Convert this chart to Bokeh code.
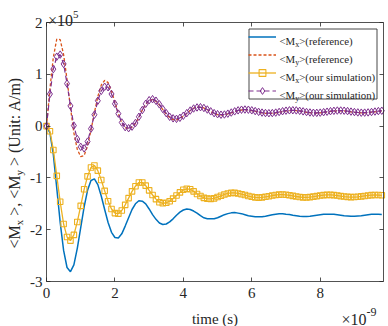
import numpy as np
from bokeh.plotting import figure
from bokeh.models import Range1d, FixedTicker, LinearAxis, Label, Legend, LegendItem
from bokeh.core.properties import value
from bokeh.embed import file_html
from bokeh.resources import INLINE

# ---------------- data (time in ns, magnetisation in 1e5 A/m) ----------------
t_ns = np.round(np.arange(99) * 0.1, 1)

mx_ref = [0.0, -0.13, -0.55, -1.20, -1.86, -2.40, -2.73, -2.81, -2.68, -2.36,
          -1.96, -1.56, -1.24, -1.05, -1.02, -1.13, -1.35, -1.61, -1.86, -2.05,
          -2.15, -2.16, -2.08, -1.93, -1.77, -1.61, -1.50, -1.44, -1.45, -1.50,
          -1.60, -1.71, -1.80, -1.87, -1.90, -1.89, -1.85, -1.79, -1.72, -1.66,
          -1.62, -1.60, -1.61, -1.64, -1.68, -1.73, -1.77, -1.79, -1.79, -1.79,
          -1.77, -1.74, -1.71, -1.69, -1.675, -1.67, -1.68, -1.69, -1.71, -1.73,
          -1.74, -1.75, -1.75, -1.75, -1.74, -1.725, -1.71, -1.70, -1.69, -1.69,
          -1.70, -1.705, -1.72, -1.73, -1.74, -1.745, -1.745, -1.74, -1.73, -1.72,
          -1.71, -1.70, -1.70, -1.70, -1.70, -1.71, -1.72, -1.73, -1.735, -1.74,
          -1.74, -1.735, -1.73, -1.72, -1.71, -1.70, -1.70, -1.70, -1.705]

my_ref = [0.0, 0.72, 1.33, 1.68, 1.67, 1.38, 0.90, 0.36, -0.13, -0.45,
          -0.59, -0.57, -0.38, -0.08, 0.26, 0.57, 0.79, 0.885, 0.84, 0.675,
          0.46, 0.24, 0.06, -0.03, -0.05, -0.02, 0.05, 0.17, 0.31, 0.42,
          0.49, 0.51, 0.48, 0.41, 0.32, 0.23, 0.165, 0.125, 0.12, 0.145,
          0.19, 0.245, 0.30, 0.345, 0.365, 0.365, 0.35, 0.315, 0.28, 0.245,
          0.22, 0.214, 0.219, 0.235, 0.257, 0.28, 0.299, 0.311, 0.315, 0.311,
          0.30, 0.285, 0.27, 0.256, 0.247, 0.244, 0.247, 0.256, 0.268, 0.282,
          0.293, 0.30, 0.301, 0.298, 0.29, 0.279, 0.267, 0.258, 0.252, 0.251,
          0.255, 0.264, 0.273, 0.283, 0.29, 0.295, 0.296, 0.292, 0.285, 0.275,
          0.266, 0.259, 0.254, 0.255, 0.259, 0.267, 0.276, 0.285, 0.292]

mx_sim = [0.0, -0.10, -0.46, -0.96, -1.46, -1.89, -2.14, -2.21, -2.10, -1.85,
          -1.54, -1.22, -0.97, -0.80, -0.76, -0.86, -1.04, -1.25, -1.45, -1.60,
          -1.68, -1.69, -1.63, -1.52, -1.39, -1.26, -1.16, -1.09, -1.09, -1.15,
          -1.24, -1.33, -1.41, -1.47, -1.49, -1.48, -1.45, -1.40, -1.34, -1.28,
          -1.23, -1.21, -1.22, -1.26, -1.31, -1.35, -1.385, -1.40, -1.405, -1.395,
          -1.37, -1.345, -1.32, -1.30, -1.29, -1.29, -1.30, -1.315, -1.33, -1.35,
          -1.365, -1.375, -1.38, -1.375, -1.365, -1.355, -1.34, -1.33, -1.322, -1.321,
          -1.326, -1.336, -1.347, -1.359, -1.369, -1.375, -1.375, -1.371, -1.362, -1.351,
          -1.34, -1.332, -1.328, -1.328, -1.333, -1.341, -1.351, -1.36, -1.367, -1.371,
          -1.37, -1.365, -1.357, -1.348, -1.339, -1.333, -1.33, -1.331, -1.336]

my_sim = [0.0, 0.62, 1.10, 1.34, 1.38, 1.20, 0.82, 0.39, 0.01, -0.25,
          -0.40, -0.43, -0.30, -0.05, 0.22, 0.49, 0.68, 0.76, 0.75, 0.62,
          0.43, 0.24, 0.07, -0.02, -0.04, -0.01, 0.06, 0.18, 0.31, 0.43,
          0.50, 0.52, 0.49, 0.42, 0.33, 0.25, 0.18, 0.15, 0.14, 0.16,
          0.20, 0.25, 0.30, 0.34, 0.36, 0.365, 0.35, 0.32, 0.285, 0.25,
          0.23, 0.22, 0.224, 0.24, 0.262, 0.285, 0.304, 0.316, 0.32, 0.316,
          0.305, 0.29, 0.275, 0.261, 0.252, 0.249, 0.252, 0.261, 0.273, 0.287,
          0.298, 0.305, 0.306, 0.303, 0.295, 0.284, 0.272, 0.263, 0.257, 0.256,
          0.26, 0.269, 0.278, 0.288, 0.295, 0.30, 0.301, 0.297, 0.29, 0.28,
          0.271, 0.264, 0.259, 0.26, 0.264, 0.272, 0.281, 0.29, 0.297]

x_ticks = [0, 2, 4, 6, 8]
y_ticks = [-3, -2, -1, 0, 1, 2]
y_tick_labels = {-3: "-3", -2: "-2", -1: "-1", 0: "0", 1: "1", 2: "2"}

# ---------------- layout (page pixels) ----------------
W_FIG, H_FIG = 388, 326
AXL, AXR, AXT, AXB = 46, 383, 22, 281          # axes box
X0, X1 = 0.0, 9.85
Y0, Y1 = -3.0, 2.0

BLUE, ORANGE, YELLOW, PURPLE, AX = "#0072BD", "#D95319", "#EDB120", "#7E2F8E", "#262626"
FONT = "Liberation Serif"


def dx(px):
    return X0 + (px - AXL) / (AXR - AXL) * (X1 - X0)


def dy(py):
    return Y1 - (py - AXT) / (AXB - AXT) * (Y1 - Y0)


CW = {'<': 564, 'M': 889, 'x': 500, 'y': 500, '>': 564, ',': 250, ' ': 250, '(': 333,
      ')': 333, 'U': 722, 'n': 500, 'i': 278, 't': 278, ':': 278, 'A': 722, '/': 278,
      'm': 778, 'r': 333, 'e': 444, 'f': 333, 'c': 444, 'o': 500, 'u': 500, 's': 389,
      'l': 278, 'a': 444, '\u00d7': 564, '1': 500, '0': 500, '5': 500, '9': 500, '-': 333}


def tw(s, size):
    return sum(CW.get(ch, 500) for ch in s) * size / 1000.0


p = figure(width=W_FIG, height=H_FIG,
           x_range=Range1d(dx(0), dx(W_FIG)), y_range=Range1d(dy(H_FIG), dy(0)),
           output_backend="svg", toolbar_location=None,
           min_border_left=0, min_border_right=0, min_border_top=0, min_border_bottom=0)
p.background_fill_color = "white"
p.border_fill_color = "white"
p.grid.visible = False
p.outline_line_color = None

xa = p.xaxis[0]
ya = p.yaxis[0]
for ax, ticks, loc, bnds in ((xa, x_ticks, Y0, (X0, X1)), (ya, y_ticks, X0, (Y0, Y1))):
    ax.ticker = FixedTicker(ticks=ticks)
    ax.fixed_location = loc
    ax.bounds = bnds
    ax.major_tick_in = 4
    ax.major_tick_out = 0
    ax.minor_tick_in = 0
    ax.minor_tick_out = 0
    ax.axis_line_color = AX
    ax.axis_line_width = 0.8
    ax.major_tick_line_color = AX
    ax.major_tick_line_width = 0.8
    ax.major_label_text_font = FONT
    ax.major_label_text_font_size = "15px"
    ax.major_label_text_color = AX
xa.major_label_standoff = 6
ya.major_label_standoff = 4
ya.major_label_overrides = y_tick_labels

for place, ticks, loc, bnds in (("above", x_ticks, Y1, (X0, X1)),
                                ("right", y_ticks, X1, (Y0, Y1))):
    ax = LinearAxis(ticker=FixedTicker(ticks=ticks), fixed_location=loc, bounds=bnds,
                    major_tick_in=4, major_tick_out=0,
                    minor_tick_in=0, minor_tick_out=0, major_label_standoff=0,
                    major_label_text_font_size="0px",
                    major_label_overrides={v: "" for v in ticks},
                    axis_line_color=AX, axis_line_width=0.8,
                    major_tick_line_color=AX, major_tick_line_width=0.8)
    p.add_layout(ax, place)

# legend frame geometry (page px)
LEG_L, LEG_T = 248, 28
GH, SP, PAD, GW, LSO, LW = 17, 1, 0, 28, 3, 98
LEG_H = 2 * PAD + 4 * GH + 3 * SP
LEG_W = 2 * PAD + GW + LSO + LW

# legend frame drawn as an outlined quad (layout element, not data)
p.quad(left=[dx(LEG_L + 0.5)], right=[dx(LEG_L + LEG_W - 0.5)],
       top=[dy(LEG_T + 0.5)], bottom=[dy(LEG_T + LEG_H - 0.5)],
       fill_color="white", fill_alpha=1.0, line_color="#333333", line_width=0.9)

r_blue = p.line(t_ns, mx_ref, line_color=BLUE, line_width=1.5)
r_orange = p.line(t_ns, my_ref, line_color=ORANGE, line_width=1.3, line_dash="3 2")
r_yl = p.line(t_ns, mx_sim, line_color=YELLOW, line_width=1.3)
r_ys = p.scatter(t_ns, mx_sim, marker="square", size=5.5, fill_color=None,
                 line_color=YELLOW, line_width=1.1)
r_pl = p.line(t_ns, my_sim, line_color=PURPLE, line_width=1.2, line_dash="5 3")
r_ps = p.scatter(t_ns, my_sim, marker="diamond", size=7.5, fill_color=None,
                 line_color=PURPLE, line_width=1.0)

legend = Legend(items=[LegendItem(label=value(""), renderers=[r_blue]),
                       LegendItem(label=value(""), renderers=[r_orange]),
                       LegendItem(label=value(""), renderers=[r_yl, r_ys]),
                       LegendItem(label=value(""), renderers=[r_pl, r_ps])],
                location=(LEG_L, H_FIG - (LEG_T + LEG_H)), padding=PAD, spacing=SP,
                glyph_width=GW, glyph_height=GH, label_height=GH, label_width=LW,
                label_standoff=LSO, border_line_color=None,
                background_fill_color="white", background_fill_alpha=0.0)
p.add_layout(legend)


def lab(px, py, text, size, angle=0.0, align="left", baseline="alphabetic"):
    p.add_layout(Label(x=dx(px), y=dy(py), text=text, text_font=FONT,
                       text_font_size=f"{size}px", text_color=AX, angle=angle,
                       angle_units="rad", text_align=align, text_baseline=baseline,
                       level="overlay"))


# legend texts with subscripts
LF = 10.8
leg_rows = [("x", ">(reference)"), ("y", ">(reference)"),
            ("x", ">(our simulation)"), ("y", ">(our simulation)")]
for k, (sub, rest) in enumerate(leg_rows):
    yb = LEG_T + PAD + GH / 2 + (GH + SP) * k + 3.5   # text baseline
    x = LEG_L + PAD + GW + LSO
    lab(x, yb, "<M", LF)
    x += tw("<M", LF)
    lab(x, yb + 3.5, sub, 8)
    x += tw(sub, 8)
    lab(x, yb, rest, LF)

# y axis label, rotated, with subscripts
pieces = [("<M", 16, 0, 0), ("x", 11, 1, 4), (">, <M", 16, 0, 0), ("y", 11, 1, 4),
          ("> (Unit: A/m)", 16, 0, 0)]
yy = 248
for s, size, is_sub, gap in pieces:
    lab(14 + 4.5 * is_sub, yy, s, size, angle=np.pi / 2)
    yy -= tw(s, size) + gap

# exponent notes
lab(47.5, 20, "\u00d710", 16)
lab(47.5 + tw("\u00d710", 16), 13.5, "5", 11)
lab(341, 318.5, "\u00d710", 16)
lab(341 + tw("\u00d710", 16), 311, "-9", 12)

# x axis label
lab((AXL + AXR) / 2, 318, "time (s)", 15, align="center")

open("out.html", "w").write(file_html(p, INLINE))
